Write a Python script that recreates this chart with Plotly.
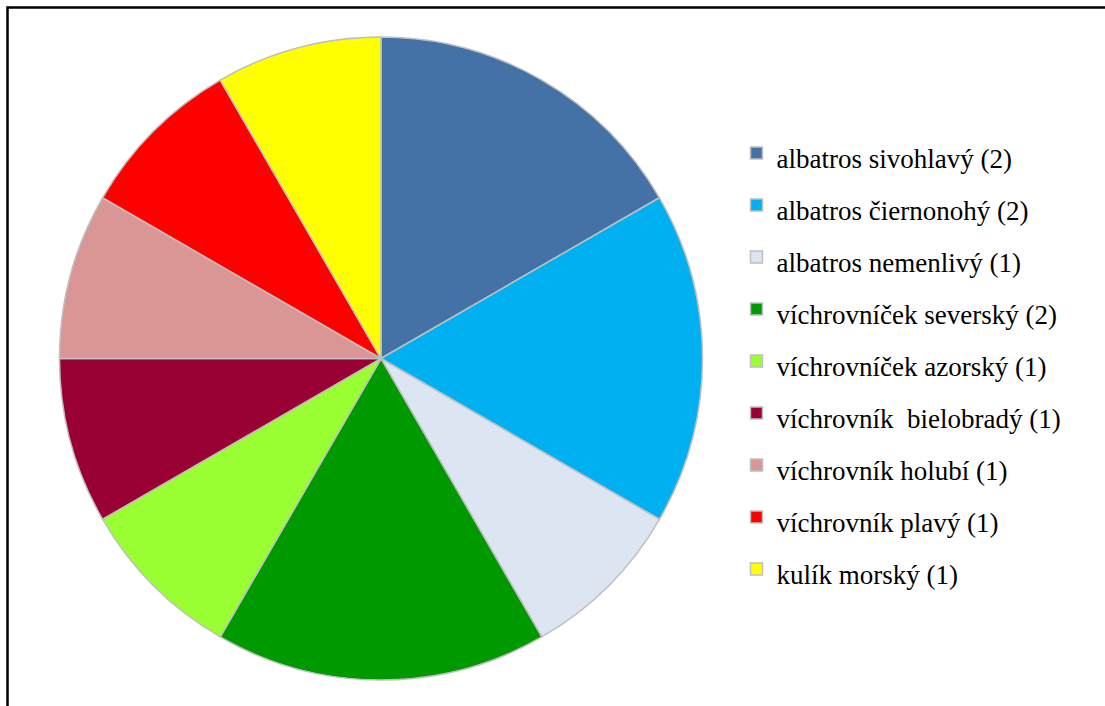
import plotly.graph_objects as go

labels = ["albatros sivohlavý", "albatros čiernonohý", "albatros nemenlivý",
          "víchrovníček severský", "víchrovníček azorský", "víchrovník  bielobradý",
          "víchrovník holubí", "víchrovník plavý", "kulík morský"]
values = [2, 2, 1, 2, 1, 1, 1, 1, 1]
colors = ["#4472A7", "#00B0F0", "#DCE6F2", "#009900", "#99FF33", "#990033",
          "#D99694", "#FF0000", "#FFFF00"]

W, H = 1105, 706
cx, cy, r = 381, 358.5, 321.5

legend_text = [
    f'<span style="font-size:27px;font-family:\'Liberation Serif\',\'Times New Roman\',serif">'
    f'{l.replace("  ", "&nbsp; ")} ({v})</span>'
    for l, v in zip(labels, values)
]

fig = go.Figure(go.Pie(
    labels=legend_text,
    values=values,
    sort=False,
    direction="clockwise",
    rotation=0,
    marker=dict(colors=colors, line=dict(color="#BFBFBF", width=1.5)),
    textinfo="none",
    hoverinfo="label+value",
    domain=dict(x=[(cx - r) / W, (cx + r) / W], y=[1 - (cy + r) / H, 1 - (cy - r) / H]),
))

fig.update_layout(
    width=W, height=H,
    margin=dict(l=0, r=0, t=0, b=0),
    paper_bgcolor="white",
    plot_bgcolor="white",
    showlegend=True,
    legend=dict(
        x=0.6665, xanchor="left",
        y=1 - 361.5 / H, yanchor="middle",
        font=dict(family="Liberation Serif, Times New Roman, serif", size=37.7, color="black"),
        bgcolor="rgba(0,0,0,0)",
    ),
    shapes=[dict(type="rect", xref="paper", yref="paper",
                 x0=7.5 / W, x1=1.02, y0=-0.02, y1=1 - 7.5 / H,
                 line=dict(color="black", width=2.5), fillcolor="rgba(0,0,0,0)")],
)

fig.write_html("out.html", config={"displayModeBar": False},
               post_script="document.body.style.margin='0px';")
